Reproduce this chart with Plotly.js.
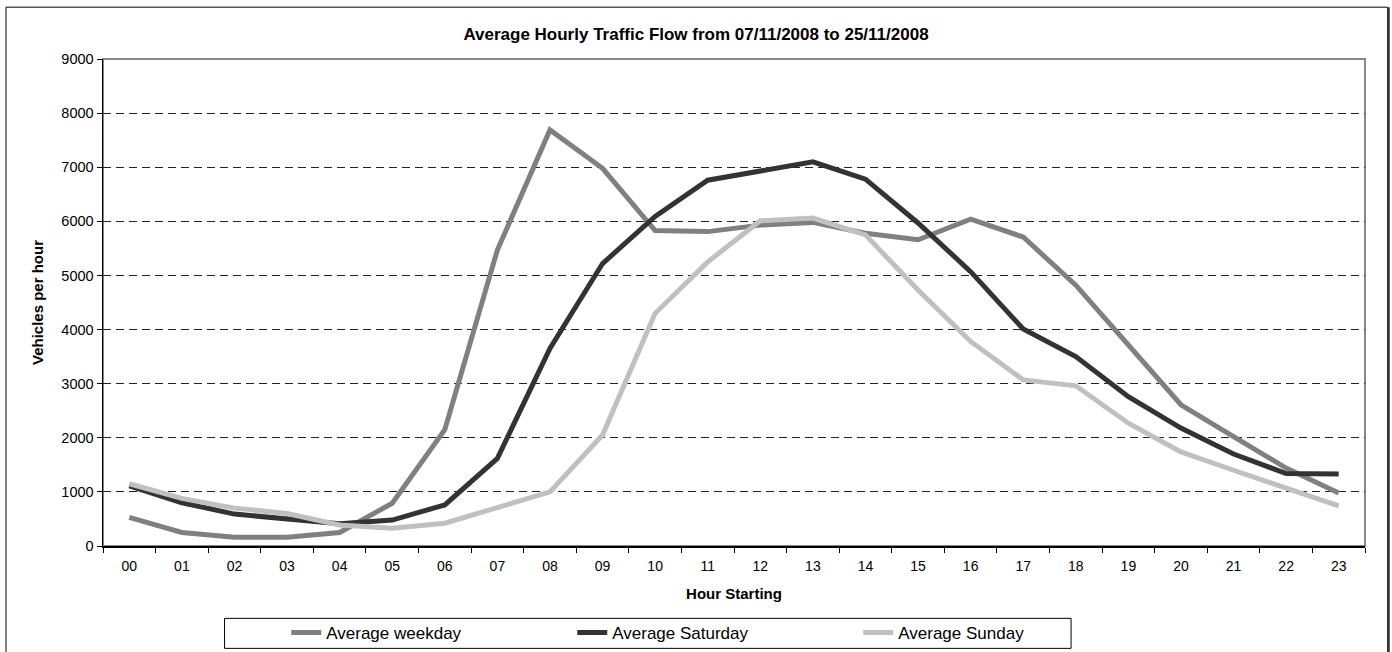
<!DOCTYPE html>
<html>
<head>
<meta charset="utf-8">
<script src="https://cdn.plot.ly/plotly-3.0.1.min.js"></script>
<style>
html,body{margin:0;padding:0;background:#fff;}
#chart{width:1392px;height:652px;}
</style>
</head>
<body>
<div id="chart"></div>
<script>
const hours = ['00','01','02','03','04','05','06','07','08','09','10','11','12','13','14','15','16','17','18','19','20','21','22','23'];
const weekday = [530, 250, 160, 160, 250, 790, 2150, 5470, 7690, 6980, 5830, 5810, 5930, 5980, 5780, 5660, 6040, 5710, 4820, 3720, 2610, 2020, 1440, 980];
const saturday = [1110, 800, 590, 490, 410, 480, 760, 1620, 3650, 5220, 6090, 6760, 6940, 7100, 6780, 5970, 5070, 4010, 3500, 2760, 2180, 1700, 1340, 1330];
const sunday = [1150, 880, 700, 600, 390, 330, 420, 700, 1000, 2050, 4300, 5250, 6010, 6060, 5750, 4730, 3780, 3070, 2960, 2270, 1740, 1400, 1070, 740];
const seriesNames = ['Average weekday', 'Average Saturday', 'Average Sunday'];
const seriesColors = ['#808080', '#333333', '#c0c0c0'];

const W = 1392, H = 652;
const L = 102.7, R = 1365, T = 59.3, B = 546;
const pw = R - L, ph = B - T;
const px = v => (v - L) / pw;
const py = v => (B - v) / ph;

const traces = [weekday, saturday, sunday].map((ys, i) => ({
  type: 'scatter', mode: 'lines', x: hours, y: ys, name: seriesNames[i],
  line: {color: seriesColors[i], width: 5, shape: 'linear'},
  hoverinfo: 'skip'
}));

const layout = {
  width: W, height: H,
  margin: {l: L, r: W - R, t: T, b: H - B, pad: 0, autoexpand: false},
  paper_bgcolor: '#fff', plot_bgcolor: '#fff',
  font: {family: 'Liberation Sans, Arial, sans-serif', color: '#000', size: 14},
  title: {text: '<b>Average Hourly Traffic Flow from 07/11/2008 to 25/11/2008</b>',
    font: {size: 17, color: '#000'}, x: 0.5, xref: 'container', xanchor: 'center',
    y: 1 - 34 / H, yref: 'container', yanchor: 'middle'},
  xaxis: {
    type: 'category', range: [-0.5, hours.length - 0.5], tickson: 'boundaries',
    ticks: 'outside', ticklen: 5, tickcolor: '#000', ticklabelstandoff: 7,
    showline: true, linecolor: '#000', linewidth: 1.5, showgrid: false, zeroline: false,
    tickfont: {size: 14}, fixedrange: true, automargin: false,
    title: {text: '<b>Hour Starting</b>', font: {size: 15}, standoff: 15}
  },
  yaxis: {
    range: [0, 9000], dtick: 1000, tick0: 0, ticks: 'outside', ticklen: 5, tickcolor: '#000',
    showline: true, linecolor: '#000', linewidth: 1.5, zeroline: false, automargin: false,
    showgrid: true, gridcolor: '#222', gridwidth: 1, griddash: '8px,5px',
    tickfont: {size: 14.5}, fixedrange: true,
    title: {text: '<b>Vehicles per hour</b>', font: {size: 15}, standoff: 14}
  },
  showlegend: true,
  legend: {orientation: 'h', x: px(286), xanchor: 'left', y: py(633), yanchor: 'middle',
    bgcolor: 'rgba(0,0,0,0)', borderwidth: 0, font: {size: 17},
    entrywidth: 241, entrywidthmode: 'pixels', itemwidth: 30, traceorder: 'normal'},
  shapes: [
    {type: 'rect', xref: 'paper', yref: 'paper', x0: 0, x1: 1, y0: 0, y1: 1,
      line: {color: '#888', width: 2}, layer: 'below'},
    {type: 'rect', xref: 'paper', yref: 'paper', x0: px(5.7), x1: px(1387.7), y0: py(660), y1: py(7.5),
      line: {color: '#000', width: 1}},
    {type: 'line', xref: 'paper', yref: 'paper', x0: px(1388.5), x1: px(1388.5), y0: py(660), y1: py(7.5),
      line: {color: '#333', width: 2.5}},
    {type: 'rect', xref: 'paper', yref: 'paper', x0: px(224.3), x1: px(1071), y0: py(648.3), y1: py(618.3),
      line: {color: '#000', width: 1}, fillcolor: 'rgba(0,0,0,0)'}
  ]
};

Plotly.newPlot('chart', traces, layout, {staticPlot: true, displayModeBar: false});
</script>
</body>
</html>
